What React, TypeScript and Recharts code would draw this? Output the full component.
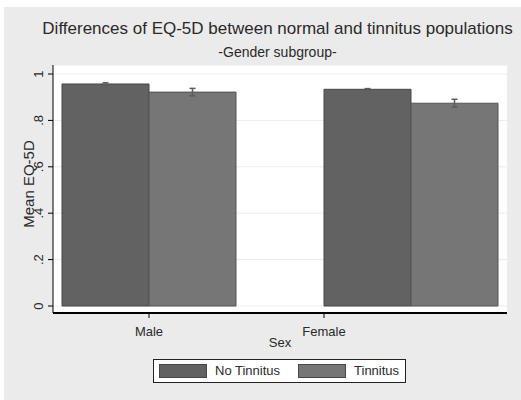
import { BarChart, Bar, XAxis, YAxis, CartesianGrid, ErrorBar, Legend } from "recharts";

const SEXES = ["Male", "Female"];
const NO_TINNITUS = [0.957, 0.934];
const NO_TINNITUS_ERR = [0.005, 0.003];
const TINNITUS = [0.922, 0.874];
const TINNITUS_ERR = [0.016, 0.017];
const Y_TICKS = [0, 0.2, 0.4, 0.6, 0.8, 1];
const Y_TICK_LABELS = ["0", ".2", ".4", ".6", ".8", "1"];

const data = SEXES.map((sex, i) => ({
  sex,
  noTinnitus: NO_TINNITUS[i],
  noTinnitusErr: NO_TINNITUS_ERR[i],
  tinnitus: TINNITUS[i],
  tinnitusErr: TINNITUS_ERR[i],
}));

const FONT = '"Liberation Sans", Arial, sans-serif';
const TEXT = "#2a2a2a";
// stata puts the Female label at the left edge of its bar group
const GROUP_HALF = 87;

function SexTick(props: any) {
  const { x, y, payload, index } = props;
  const tx = index === 1 ? x - GROUP_HALF : x;
  return (
    <g>
      <line x1={tx} x2={tx} y1={y} y2={y + 5} stroke="#000" />
      <text x={tx} y={y + 23} textAnchor="middle" fontSize={13} fill={TEXT} fontFamily={FONT}>
        {payload.value}
      </text>
    </g>
  );
}

function ValueTick(props: any) {
  const { x, y, payload } = props;
  const bx = x - 3;
  return (
    <text
      x={bx}
      y={y}
      transform={`rotate(-90, ${bx}, ${y})`}
      textAnchor="middle"
      fontSize={13}
      fill={TEXT}
      fontFamily={FONT}
    >
      {Y_TICK_LABELS[Y_TICKS.indexOf(payload.value)]}
    </text>
  );
}

function YTitle(props: any) {
  const { viewBox } = props;
  const x = viewBox.x + 33.5;
  const y = viewBox.y + viewBox.height / 2 - 5;
  return (
    <text
      x={x}
      y={y}
      transform={`rotate(-90, ${x}, ${y})`}
      textAnchor="middle"
      fontSize={15}
      fill={TEXT}
      fontFamily={FONT}
    >
      Mean EQ-5D
    </text>
  );
}

function LegendBox(props: any) {
  const items = props.payload || [];
  return (
    <div style={{ position: "relative", width: 521, height: 41 }}>
      <div
        style={{
          position: "absolute",
          left: 153,
          top: 0,
          width: 253,
          height: 24,
          boxSizing: "border-box",
          border: "1px solid #222",
          background: "#fff",
          display: "flex",
          alignItems: "center",
          paddingLeft: 5,
          fontFamily: FONT,
          fontSize: 13,
          color: TEXT,
        }}
      >
        {items.map((it: any, i: number) => (
          <div key={it.value} style={{ display: "flex", alignItems: "center", marginLeft: i === 0 ? 0 : 18 }}>
            <span
              style={{
                display: "inline-block",
                width: 48,
                height: 14,
                boxSizing: "border-box",
                background: it.color,
                border: "1px solid #474747",
                marginRight: 8,
              }}
            />
            <span style={{ lineHeight: "14px" }}>{it.value}</span>
          </div>
        ))}
      </div>
    </div>
  );
}

export default function App() {
  return (
    <div style={{ position: "absolute", left: 0, top: 0, width: 521, height: 400, background: "#fff" }}>
      <div style={{ position: "absolute", left: 4, top: 7, right: 0, bottom: 0, background: "#ebebeb" }} />
      <div
        style={{
          position: "absolute",
          left: 0,
          width: 555,
          top: 19,
          textAlign: "center",
          fontFamily: FONT,
          fontSize: 17,
          color: TEXT,
          whiteSpace: "nowrap",
          lineHeight: "20px",
        }}
      >
        Differences of EQ-5D between normal and tinnitus populations
      </div>
      <div
        style={{
          position: "absolute",
          left: 0,
          width: 555,
          top: 43,
          textAlign: "center",
          fontFamily: FONT,
          fontSize: 14,
          color: TEXT,
          whiteSpace: "nowrap",
          lineHeight: "18px",
        }}
      >
        -Gender subgroup-
      </div>
      <div style={{ position: "absolute", left: 0, top: 0 }}>
        <BarChart
          width={521}
          height={400}
          data={data}
          margin={{ top: 65, right: 14, left: 0, bottom: 0 }}
          barCategoryGap={44}
          barGap={0}
        >
          <CartesianGrid vertical={false} fill="#fff" stroke="#ebebeb" />
          <XAxis
            dataKey="sex"
            height={46}
            padding={{ left: -35, right: -35 }}
            axisLine={{ stroke: "#000", strokeWidth: 2 }}
            tickLine={false}
            tickSize={0}
            tickMargin={0}
            interval={0}
            tick={<SexTick />}
            label={{ value: "Sex", position: "insideBottom", offset: 12, fontSize: 13, fill: TEXT, fontFamily: FONT }}
          />
          <YAxis
            width={53}
            domain={[0, 1]}
            ticks={Y_TICKS}
            padding={{ top: 9, bottom: 7 }}
            axisLine={{ stroke: "#000" }}
            tickLine={{ stroke: "#000" }}
            tickSize={5}
            tickMargin={2}
            interval={0}
            tick={<ValueTick />}
            label={{ content: <YTitle /> }}
          />
          <Legend
            verticalAlign="bottom"
            wrapperStyle={{ left: 0, top: 359, width: 521, height: 41 }}
            content={<LegendBox />}
          />
          <Bar dataKey="noTinnitus" name="No Tinnitus" fill="#626262" stroke="#474747" isAnimationActive={false}>
            <ErrorBar dataKey="noTinnitusErr" width={3} stroke="#5c5c5c" isAnimationActive={false} />
          </Bar>
          <Bar dataKey="tinnitus" name="Tinnitus" fill="#767676" stroke="#555" isAnimationActive={false}>
            <ErrorBar dataKey="tinnitusErr" width={3} stroke="#5c5c5c" isAnimationActive={false} />
          </Bar>
        </BarChart>
      </div>
    </div>
  );
}
